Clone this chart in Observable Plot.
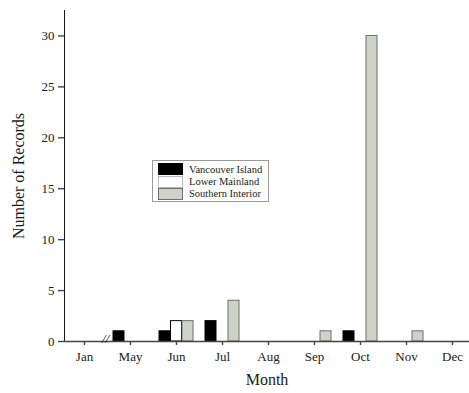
<!DOCTYPE html>
<html>
<head>
<meta charset="utf-8">
<script src="https://cdn.jsdelivr.net/npm/d3@7"></script>
<script src="https://cdn.jsdelivr.net/npm/@observablehq/plot@0.6"></script>
<style>
  body { margin: 0; background: #fff; }
  #wrap { position: relative; width: 469px; height: 393px; }
  .legend { position: absolute; left: 152px; top: 160px; width: 117px; height: 42px; border: 1px solid #9a9a9a; background: #fff; font-family: "Liberation Serif", serif; font-size: 10.5px; color: #1a1a1a; box-sizing: border-box; padding-top: 2px; }
  .legend .row { display: flex; align-items: center; height: 12.4px; white-space: nowrap; }
  .legend .sw { width: 25px; height: 12px; margin-left: 5px; margin-right: 6px; box-sizing: border-box; flex: none; }
</style>
</head>
<body>
<div id="wrap"></div>
<script>
const months = ["Jan", "May", "Jun", "Jul", "Aug", "Sep", "Oct", "Nov", "Dec"];
const regions = ["Vancouver Island", "Lower Mainland", "Southern Interior"];
const vancouverIsland = [0, 1, 1, 2, 0, 0, 1, 0, 0];
const lowerMainland = [0, 0, 2, 0, 0, 0, 0, 0, 0];
const southernInterior = [0, 0, 2, 4, 0, 1, 30, 1, 0];
const yTicks = [0, 5, 10, 15, 20, 25, 30];

const seriesValues = [vancouverIsland, lowerMainland, southernInterior];
const fills = ["#000000", "#ffffff", "#cfd2c6"];
const strokes = ["#000000", "#000000", "#6f6f6f"];
const offsets = [-11.5, 0, 11.5];

const rows = [];
regions.forEach((r, i) => months.forEach((m, j) => rows.push({region: r, month: m, value: seriesValues[i][j]})));

const barMarks = regions.map((r, i) =>
  Plot.barY(rows.filter(d => d.region === r && d.value > 0), {
    x: "month", y: "value",
    fill: fills[i], stroke: strokes[i], strokeWidth: 1,
    insetLeft: 17.5, insetRight: 17.5, dx: offsets[i]
  })
);

const chart = Plot.plot({
  width: 469,
  height: 393,
  marginLeft: 64,
  marginRight: 0,
  marginTop: 10,
  marginBottom: 52,
  style: {fontFamily: "Liberation Serif, serif", fontSize: "13px", color: "#1a1a1a", background: "#fff"},
  x: {domain: months, range: [60, 475], padding: 0, label: "Month", labelAnchor: "center", labelOffset: 43, tickSize: 4, tickPadding: 6, labelArrow: false},
  y: {domain: [0, 32.5], ticks: yTicks, label: "Number of Records", labelAnchor: "center", labelOffset: 52, tickSize: 6, tickPadding: 4, line: true, labelArrow: false},
  marks: [
    ...barMarks,
    Plot.ruleY([0], {stroke: "#444", strokeWidth: 1.4}),
    Plot.text(["//"], {x: () => months[0], y: () => 0, text: d => d, dx: 21, dy: -3, fontSize: 13, fill: "#111", fontStyle: "italic"})
  ]
});

chart.querySelectorAll("[aria-label='x-axis label'] text, [aria-label='y-axis label'] text").forEach(t => {
  t.style.fontSize = "16px";
  t.textContent = t.textContent.replace(/[↑→↓←]/g, "").trim();
});
chart.querySelectorAll("[aria-label='y-axis line'] line, [aria-label='y-axis tick'] path, [aria-label='x-axis tick'] path").forEach(el => {
  el.setAttribute("stroke", "#444");
  el.setAttribute("stroke-width", "1.4");
});

const wrap = document.getElementById("wrap");
wrap.appendChild(chart);

const legend = document.createElement("div");
legend.className = "legend";
regions.forEach((r, i) => {
  const row = document.createElement("div");
  row.className = "row";
  const sw = document.createElement("div");
  sw.className = "sw";
  sw.style.background = fills[i];
  sw.style.border = "1px solid " + (i === 1 ? "#bbb" : strokes[i]);
  const label = document.createElement("span");
  label.textContent = r;
  row.appendChild(sw);
  row.appendChild(label);
  legend.appendChild(row);
});
wrap.appendChild(legend);
</script>
</body>
</html>
